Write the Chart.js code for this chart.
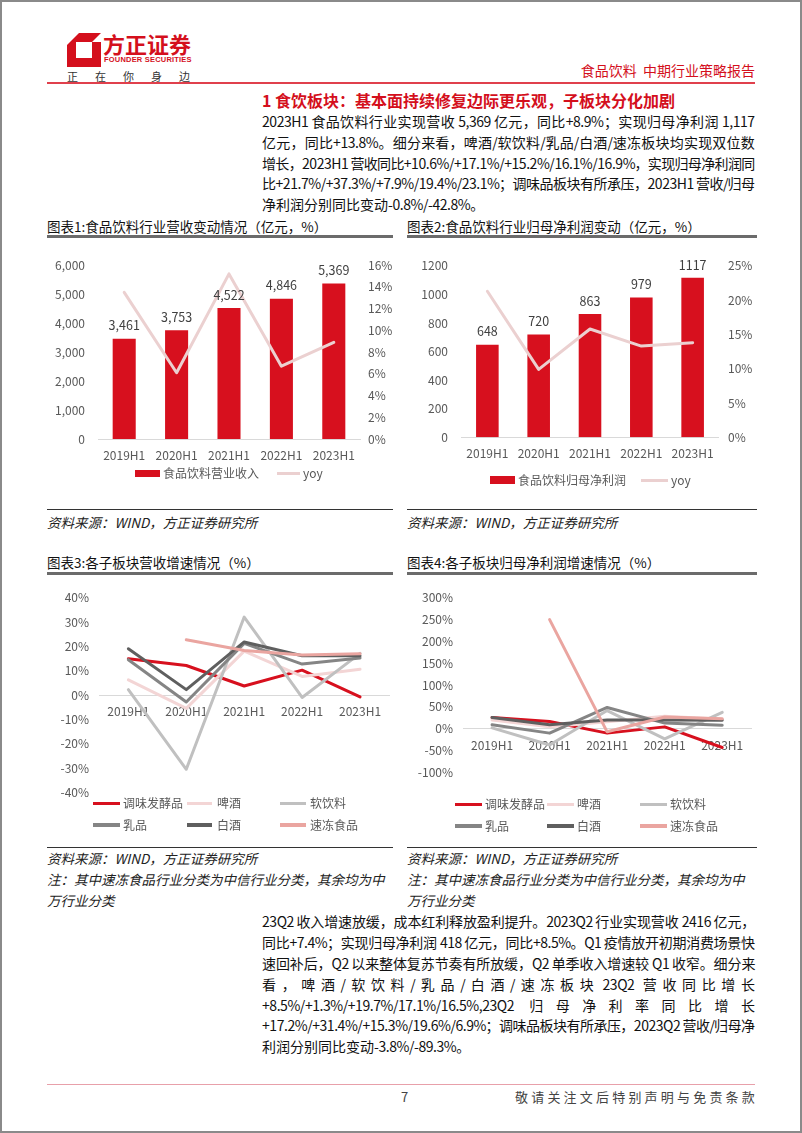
<!DOCTYPE html>
<html lang="zh-CN">
<head>
<meta charset="utf-8">
<title>食品饮料 中期行业策略报告 第7页</title>
<script src="https://cdn.jsdelivr.net/npm/chart.js@4.4.1/dist/chart.umd.min.js"></script>
<style>
html,body{margin:0;padding:0;background:#fff;}
body{width:802px;height:1133px;position:relative;overflow:hidden;font-family:"Noto Sans CJK SC","Noto Sans",sans-serif;color:#111;}
.a{position:absolute;white-space:nowrap;}
.j{position:absolute;left:262px;white-space:nowrap;font-size:14px;line-height:20px;height:20px;color:#111;}
.j .asc{letter-spacing:-0.45px;}
.ct{position:absolute;font-size:13.5px;line-height:18px;color:#111;white-space:nowrap;}
.ul{position:absolute;height:3px;background:#6b6b6b;}
.sl{position:absolute;height:1px;background:#333;}
.src{position:absolute;font-size:13.5px;line-height:18px;font-style:italic;color:#222;white-space:nowrap;}
canvas{position:absolute;}
.lg{position:absolute;font-size:12px;line-height:16px;color:#595959;white-space:nowrap;}
.lk{position:absolute;}
#frame{position:absolute;left:0;top:0;width:802px;height:1133px;box-sizing:border-box;border:2px solid #8a8a8a;pointer-events:none;}
</style>
</head>
<body>
<!-- header -->
<svg class="a" style="left:66px;top:32px" width="36" height="36" viewBox="0 0 36 36">
  <path d="M1 1 H35 V35 H1 Z M10 10 V26 H26 V10 Z" fill="#d40f1c" fill-rule="evenodd"/>
  <path d="M1 1 L13 1 L1 13 Z" fill="#fff"/>
  <path d="M26 10 L35 1 L35 10 Z" fill="#fff"/>
</svg>
<div class="a" style="left:103px;top:29px;font-size:22px;line-height:28px;font-weight:bold;color:#d40f1c">方正证券</div>
<div class="a" style="left:104px;top:55px;font-size:7.5px;line-height:10px;font-weight:bold;color:#d40f1c;font-family:'Liberation Sans',sans-serif;letter-spacing:0.2px">FOUNDER SECURITIES</div>
<div class="a" style="left:67px;top:69px;font-size:11px;line-height:15px;color:#333;letter-spacing:17px">正在你身边</div>
<div class="a" style="right:47px;top:61px;font-size:14px;line-height:18px;color:#d40f1c">食品饮料&nbsp;&nbsp;中期行业策略报告</div>
<div class="a" style="left:47px;top:82px;width:708px;height:1.5px;background:#e0404c"></div>

<!-- block 1 -->
<div class="a" style="left:262px;top:89px;font-size:16px;line-height:22px;font-weight:bold;color:#d40f1c">1 食饮板块：基本面持续修复边际更乐观，子板块分化加剧</div>
<div class="j" data-w="493" style="top:111px">2023H1 食品饮料行业实现营收 5,369 亿元，同比+8.9%；实现归母净利润 1,117</div>
<div class="j" data-w="493" style="top:131.8px">亿元，同比+13.8%。细分来看，啤酒/软饮料/乳品/白酒/速冻板块均实现双位数</div>
<div class="j" data-w="493" style="top:152.6px">增长，2023H1 营收同比+10.6%/+17.1%/+15.2%/16.1%/16.9%，实现归母净利润同</div>
<div class="j" data-w="493" style="top:173.4px">比+21.7%/+37.3%/+7.9%/19.4%/23.1%；调味品板块有所承压，2023H1 营收/归母</div>
<div class="j" style="top:194.2px">净利润分别同比变动-0.8%/-42.8%。</div>

<!-- chart titles 1/2 -->
<div class="ct" style="left:47px;top:217px">图表1:食品饮料行业营收变动情况（亿元，%）</div>
<div class="ul" style="left:47px;top:234.5px;width:346px"></div>
<div class="ct" style="left:407px;top:217px">图表2:食品饮料行业归母净利润变动（亿元，%）</div>
<div class="ul" style="left:407px;top:234.5px;width:350px"></div>

<canvas id="c1" width="346" height="225" style="left:47px;top:245px"></canvas>
<canvas id="c2" width="350" height="225" style="left:407px;top:245px"></canvas>

<!-- legends 1/2 -->
<div class="lk" style="left:135px;top:469.5px;width:25px;height:7.5px;background:#d7101e"></div>
<div class="lg" style="left:163px;top:465px">食品饮料营业收入</div>
<div class="lk" style="left:277px;top:471.8px;width:23px;height:3px;background:#ebd0d0"></div>
<div class="lg" style="left:303px;top:465px">yoy</div>
<div class="lk" style="left:490px;top:476px;width:25px;height:7.5px;background:#d7101e"></div>
<div class="lg" style="left:518px;top:471.5px">食品饮料归母净利润</div>
<div class="lk" style="left:641px;top:478.5px;width:27px;height:3px;background:#ebd0d0"></div>
<div class="lg" style="left:671px;top:471.5px">yoy</div>

<div class="sl" style="left:47px;top:509px;width:346px"></div>
<div class="src" style="left:47px;top:512.5px">资料来源：WIND，方正证券研究所</div>
<div class="sl" style="left:407px;top:509px;width:350px"></div>
<div class="src" style="left:407px;top:512.5px">资料来源：WIND，方正证券研究所</div>

<!-- chart titles 3/4 -->
<div class="ct" style="left:47px;top:553px">图表3:各子板块营收增速情况（%）</div>
<div class="ul" style="left:47px;top:571.5px;width:346px"></div>
<div class="ct" style="left:407px;top:553px">图表4:各子板块归母净利润增速情况（%）</div>
<div class="ul" style="left:407px;top:571.5px;width:350px"></div>

<canvas id="c3" width="346" height="230" style="left:47px;top:580px"></canvas>
<canvas id="c4" width="350" height="210" style="left:407px;top:580px"></canvas>
<div id="lg3"></div>
<div id="lg4"></div>

<div class="sl" style="left:47px;top:846.5px;width:346px"></div>
<div class="src" style="left:47px;top:849px">资料来源：WIND，方正证券研究所</div>
<div class="src" style="left:47px;top:870px">注：其中速冻食品行业分类为中信行业分类，其余均为中</div>
<div class="src" style="left:47px;top:891px">万行业分类</div>
<div class="sl" style="left:407px;top:846.5px;width:350px"></div>
<div class="src" style="left:407px;top:849px">资料来源：WIND，方正证券研究所</div>
<div class="src" style="left:407px;top:870px">注：其中速冻食品行业分类为中信行业分类，其余均为中</div>
<div class="src" style="left:407px;top:891px">万行业分类</div>

<!-- block 2 -->
<div class="j" data-w="493" style="top:911.4px">23Q2 收入增速放缓，成本红利释放盈利提升。2023Q2 行业实现营收 2416 亿元，</div>
<div class="j" data-w="493" style="top:932.2px">同比+7.4%；实现归母净利润 418 亿元，同比+8.5%。Q1 疫情放开初期消费场景快</div>
<div class="j" data-w="493" style="top:953px">速回补后，Q2 以来整体复苏节奏有所放缓，Q2 单季收入增速较 Q1 收窄。细分来</div>
<div class="j" data-w="493" style="top:973.8px">看，啤酒/软饮料/乳品/白酒/速冻板块 23Q2 营收同比增长</div>
<div class="j" data-w="493" style="top:994.6px">+8.5%/+1.3%/+19.7%/17.1%/16.5%,23Q2 归母净利率同比增长</div>
<div class="j" data-w="493" style="top:1015.4px">+17.2%/+31.4%/+15.3%/19.6%/6.9%；调味品板块有所承压，2023Q2 营收/归母净</div>
<div class="j" style="top:1036.2px">利润分别同比变动-3.8%/-89.3%。</div>

<!-- footer -->
<div class="a" style="left:47px;top:1083.5px;width:708px;height:1.5px;background:#e8a0aa"></div>
<div class="a" style="left:401px;top:1088px;font-size:13px;line-height:18px;color:#444">7</div>
<div class="a" style="right:44px;top:1088px;font-size:13px;line-height:18px;color:#444;letter-spacing:3.2px">敬请关注文后特别声明与免责条款</div>

<div id="frame"></div>

<script>
// ---------- data ----------
const periods = ['2019H1', '2020H1', '2021H1', '2022H1', '2023H1'];

const revenue = [3461, 3753, 4522, 4846, 5369];          // 亿元
const revenueYoy = [13.5, 6.1, 15.2, 6.7, 8.9];           // %

const profit = [648, 720, 863, 979, 1117];                // 亿元
const profitYoy = [21.3, 9.9, 15.8, 13.3, 13.8];          // %

const segments = ['调味发酵品', '啤酒', '软饮料', '乳品', '白酒', '速冻食品'];

// 图表3 营收增速 (%)
const revSeasoning = [14.9, 12.1, 3.7, 10.2, -0.8];
const revBeer = [6.2, -5.5, 18.0, 7.6, 10.6];
const revSoftDrink = [2.2, -30.5, 32.0, -1.0, 17.1];
const revDairy = [14.5, -2.9, 21.2, 12.7, 15.2];
const revBaijiu = [19.0, 2.2, 21.8, 16.1, 16.1];
const revFrozen = [null, 22.7, 18.3, 16.4, 16.9];

// 图表4 归母净利润增速 (%)
const npSeasoning = [25.8, 16.5, -10.0, 4.3, -42.8];
const npBeer = [20.0, 4.3, 16.0, 28.7, 21.7];
const npSoftDrink = [2.0, -37.0, 41.6, -23.0, 37.3];
const npDairy = [9.3, -10.0, 48.7, 12.9, 7.9];
const npBaijiu = [25.8, 9.3, 20.0, 20.0, 19.4];
const npFrozen = [null, 249.5, -7.0, 27.0, 23.1];

// ---------- styles ----------
const RED = '#d7101e';
const YOY = '#ebd0d0';
const segColors = ['#d7101e', '#f3d5d5', '#c0c0c0', '#858585', '#5f5f5f', '#eaa5a0'];
const FONT = '"Noto Sans CJK SC", "Noto Sans", sans-serif';
const tickFont = { family: FONT, size: 12 };
const tickColor = '#595959';

const barLabels = {
  id: 'barLabels',
  afterDatasetsDraw(chart, args, opts) {
    const meta = chart.getDatasetMeta(opts.datasetIndex);
    const values = chart.data.datasets[opts.datasetIndex].data;
    const ctx = chart.ctx;
    ctx.save();
    ctx.font = '12.5px ' + FONT;
    ctx.fillStyle = '#404040';
    ctx.textAlign = 'center';
    ctx.textBaseline = 'middle';
    meta.data.forEach((el, i) => {
      ctx.fillText(opts.format(values[i]), el.x, el.y - 13);
    });
    ctx.restore();
  }
};

function comboChart(id, bars, barLabel, yoy, leftMax, leftStep, leftFmt, rightMax, rightStep, geo) {
  return new Chart(document.getElementById(id), {
    type: 'bar',
    data: {
      labels: periods,
      datasets: [
        { type: 'line', label: 'yoy', data: yoy, yAxisID: 'y1', borderColor: YOY, backgroundColor: YOY,
          borderWidth: 3, pointRadius: 0, tension: 0, order: 0, borderJoinStyle: 'round', borderCapStyle: 'round' },
        { type: 'bar', label: barLabel, data: bars, yAxisID: 'y', backgroundColor: RED,
          categoryPercentage: 1, barPercentage: 0.44, order: 1 }
      ]
    },
    options: {
      responsive: false, animation: false,
      layout: { padding: { top: geo.top, right: 0, bottom: 0, left: 0 } },
      plugins: {
        legend: { display: false }, tooltip: { enabled: false },
        barLabels: { datasetIndex: 1, format: leftFmt }
      },
      scales: {
        x: {
          grid: { display: false, drawTicks: false },
          border: { display: true, color: '#d9d9d9', width: 1 },
          ticks: { font: tickFont, color: tickColor, padding: geo.xPad, maxRotation: 0 },
          afterFit: s => { s.height = geo.xH; }
        },
        y: {
          position: 'left', min: 0, max: leftMax,
          grid: { display: false, drawTicks: false }, border: { display: false },
          ticks: { stepSize: leftStep, font: tickFont, color: tickColor, padding: geo.lPad, callback: v => leftFmt(v) },
          afterFit: s => { s.width = geo.lW; }
        },
        y1: {
          position: 'right', min: 0, max: rightMax,
          grid: { display: false, drawTicks: false }, border: { display: false },
          ticks: { stepSize: rightStep, font: tickFont, color: tickColor, padding: geo.rPad, callback: v => v + '%' },
          afterFit: s => { s.width = geo.rW; }
        }
      }
    },
    plugins: [barLabels]
  });
}

function growthChart(id, series, yMin, yMax, step, geo) {
  const n = series.length;
  return new Chart(document.getElementById(id), {
    type: 'line',
    data: {
      labels: periods,
      datasets: series.map((d, i) => ({
        label: segments[i], data: d, borderColor: segColors[i], backgroundColor: segColors[i],
        borderWidth: 3, pointRadius: 0, tension: 0, order: n - i,
        borderJoinStyle: 'round', borderCapStyle: 'round', spanGaps: false
      }))
    },
    options: {
      responsive: false, animation: false,
      layout: { padding: { top: geo.top, right: geo.right, bottom: geo.bottom, left: 0 } },
      plugins: { legend: { display: false }, tooltip: { enabled: false } },
      scales: {
        x: {
          position: { y: 0 }, offset: true,
          grid: { display: false, drawTicks: false },
          border: { display: true, color: '#d9d9d9', width: 1 },
          ticks: { font: tickFont, color: tickColor, padding: geo.xPad, maxRotation: 0 },
          afterFit: s => { s.height = 0; }
        },
        y: {
          min: yMin, max: yMax,
          grid: { display: false, drawTicks: false }, border: { display: false },
          ticks: { stepSize: step, font: tickFont, color: tickColor, padding: geo.lPad, callback: v => v + '%' },
          afterFit: s => { s.width = geo.lW; }
        }
      }
    }
  });
}

function buildLegend(hostId, cols, rows, lineW, textOff) {
  const host = document.getElementById(hostId);
  segments.forEach((name, i) => {
    const cx = cols[i % 3], cy = rows[Math.floor(i / 3)];
    const ln = document.createElement('div');
    ln.className = 'lk';
    ln.style.cssText = `left:${cx}px;top:${cy - 1.75}px;width:${lineW[i % 3]}px;height:3.5px;background:${segColors[i]}`;
    host.appendChild(ln);
    const tx = document.createElement('div');
    tx.className = 'lg';
    tx.style.cssText = `left:${cx + textOff}px;top:${cy - 8}px`;
    tx.textContent = name;
    host.appendChild(tx);
  });
}

// justify a line: spacing goes between CJK characters and ASCII runs (ASCII runs stay tight)
function justify() {
  document.querySelectorAll('.j').forEach(el => {
    const text = el.textContent;
    const units = text.match(/[\x21-\x7e]+ ?|[^\x21-\x7e ] ?| +/g);
    el.textContent = '';
    const spans = units.map(u => {
      const s = document.createElement('span');
      s.textContent = u;
      if (/^[\x21-\x7e]/.test(u)) s.className = 'asc';
      el.appendChild(s);
      return s;
    });
    if (!el.dataset.w) return;
    const w = el.getBoundingClientRect().width;
    const gap = (parseFloat(el.dataset.w) - w) / (spans.length - 1);
    spans.slice(0, -1).forEach(s => { s.style.marginRight = gap + 'px'; });
  });
}

function render() {
  justify();
  comboChart('c1', revenue, '食品饮料营业收入', revenueYoy, 6000, 1000,
    v => Number(v).toLocaleString('en-US'), 16, 2,
    { top: 16.7, xH: 31, xPad: 9, lW: 51, lPad: 13, rW: 33, rPad: 8 });
  comboChart('c2', profit, '食品饮料归母净利润', profitYoy, 1200, 200,
    v => String(v), 25, 5,
    { top: 15.7, xH: 32.7, xPad: 9, lW: 54.7, lPad: 13.7, rW: 38.7, rPad: 9.7 });
  growthChart('c3', [revSeasoning, revBeer, revSoftDrink, revDairy, revBaijiu, revFrozen], -40, 40, 10,
    { top: 10, bottom: 10, right: 4, lW: 52.4, lPad: 10.4, xPad: 9 });
  growthChart('c4', [npSeasoning, npBeer, npSoftDrink, npDairy, npBaijiu, npFrozen], -100, 300, 50,
    { top: 11.7, bottom: 12.3, right: 6, lW: 56.3, lPad: 10.3, xPad: 9.7 });
  buildLegend('lg3', [93, 187, 280], [803.3, 825], [27, 25, 26], 30);
  buildLegend('lg4', [455, 547, 640], [804.3, 826], [27, 27, 27], 30);
}

if (document.fonts && document.fonts.ready) {
  document.fonts.ready.then(render);
} else {
  render();
}
</script>
</body>
</html>
